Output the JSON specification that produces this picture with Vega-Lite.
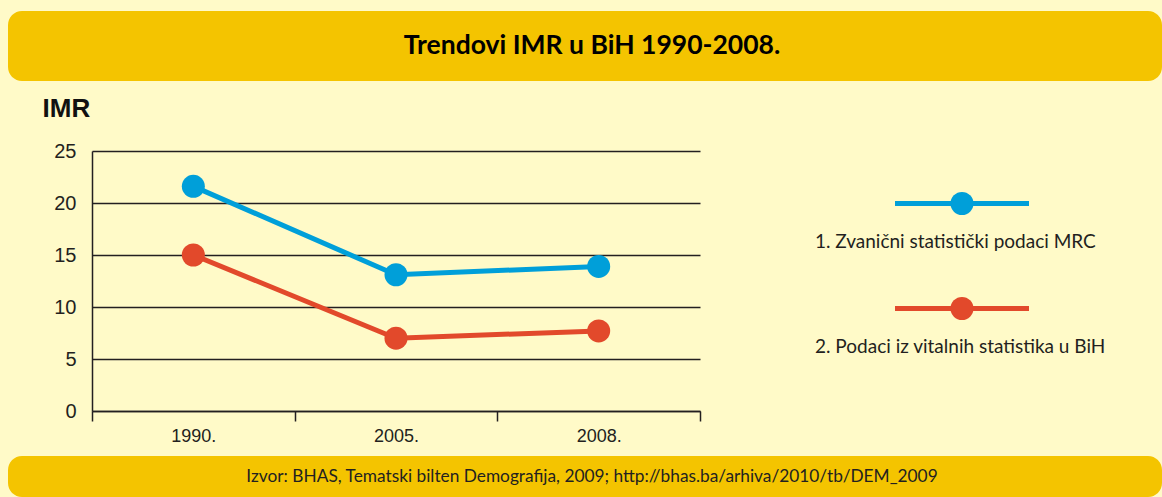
{
  "$schema": "https://vega.github.io/schema/vega-lite/v6.json",
  "background": "#FFFAC8",
  "padding": {"left": 8, "top": 11, "right": 0, "bottom": 0},
  "config": {"view": {"stroke": null}},
  "datasets": {
    "imr": [
      {"year": "1990.", "series": "1. Zvanični statistički podaci MRC", "imr": 21.6},
      {"year": "2005.", "series": "1. Zvanični statistički podaci MRC", "imr": 13.1},
      {"year": "2008.", "series": "1. Zvanični statistički podaci MRC", "imr": 13.9},
      {"year": "1990.", "series": "2. Podaci iz vitalnih statistika u BiH", "imr": 15.0},
      {"year": "2005.", "series": "2. Podaci iz vitalnih statistika u BiH", "imr": 7.0},
      {"year": "2008.", "series": "2. Podaci iz vitalnih statistika u BiH", "imr": 7.7}
    ],
    "legend": [
      {"series": "1. Zvanični statistički podaci MRC"},
      {"series": "2. Podaci iz vitalnih statistika u BiH"}
    ],
    "empty": [],
    "header": [{"text": "Trendovi IMR u BiH 1990-2008."}],
    "footer": [{"text": "Izvor:  BHAS, Tematski bilten Demografija, 2009; http://bhas.ba/arhiva/2010/tb/DEM_2009"}]
  },
  "spacing": 14,
  "vconcat": [
    {
      "width": 1154,
      "height": 70,
      "view": {"fill": "#F4C400", "stroke": null, "cornerRadius": 14},
      "data": {"name": "header"},
      "mark": {"type": "text", "font": "Lato", "fontSize": 26.5, "fontWeight": "bold", "color": "#000000", "align": "center", "baseline": "middle", "dx": 7},
      "encoding": {"text": {"field": "text"}}
    },
    {
      "spacing": 11,
      "vconcat": [
        {
          "spacing": 14,
          "hconcat": [
            {
              "width": 20,
              "height": 10,
              "data": {"name": "empty"},
              "mark": "point"
            },
            {
              "spacing": 114,
              "hconcat": [
                {
                  "width": 608,
                  "height": 260,
                  "data": {"name": "imr"},
                  "encoding": {
                    "x": {
                      "field": "year", "type": "ordinal", "sort": null,
                      "scale": {"type": "band", "paddingInner": 0, "paddingOuter": 0},
                      "axis": {"title": null, "labelAngle": 0, "labelFont": "Liberation Sans", "labelFontSize": 18, "labelColor": "#231F20", "labelPadding": 6, "tickBand": "extent", "tickSize": 10, "tickColor": "#231F20", "tickWidth": 1.5, "domainColor": "#231F20", "domainWidth": 1.5, "grid": false}
                    },
                    "y": {
                      "field": "imr", "type": "quantitative",
                      "scale": {"domain": [0, 25], "nice": false},
                      "axis": {"values": [0, 5, 10, 15, 20, 25], "grid": true, "gridColor": "#231F20", "gridWidth": 1.5, "gridOpacity": 1, "domainColor": "#231F20", "domainWidth": 1.5, "ticks": false, "labelPadding": 16, "labelFont": "Liberation Sans", "labelFontSize": 20, "labelColor": "#231F20", "title": "IMR", "titleAngle": 0, "titleAlign": "left", "titleBaseline": "alphabetic", "titleX": -50, "titleY": -35, "titleFont": "Liberation Sans", "titleFontSize": 26, "titleFontWeight": "bold", "titleColor": "#111111"}
                    },
                    "color": {
                      "field": "series", "type": "nominal",
                      "scale": {"domain": ["1. Zvanični statistički podaci MRC", "2. Podaci iz vitalnih statistika u BiH"], "range": ["#009FD9", "#E2492B"]},
                      "legend": null
                    }
                  },
                  "layer": [
                    {"mark": {"type": "line", "strokeWidth": 5}},
                    {"mark": {"type": "point", "filled": true, "size": 530, "opacity": 1}}
                  ]
                },
                {
                  "width": 134,
                  "height": 210,
                  "data": {"name": "legend"},
                  "encoding": {
                    "y": {"field": "series", "type": "nominal", "sort": null, "scale": {"type": "point", "padding": 0.5}, "axis": null},
                    "color": {
                      "field": "series", "type": "nominal",
                      "scale": {"domain": ["1. Zvanični statistički podaci MRC", "2. Podaci iz vitalnih statistika u BiH"], "range": ["#009FD9", "#E2492B"]},
                      "legend": null
                    }
                  },
                  "layer": [
                    {
                      "mark": {"type": "rule", "strokeWidth": 5},
                      "encoding": {"x": {"datum": 0, "type": "quantitative", "scale": {"domain": [0, 1]}, "axis": null}, "x2": {"datum": 1}}
                    },
                    {
                      "mark": {"type": "point", "filled": true, "size": 530, "opacity": 1},
                      "encoding": {"x": {"datum": 0.5, "type": "quantitative", "axis": null}}
                    },
                    {
                      "mark": {"type": "text", "align": "left", "baseline": "alphabetic", "dx": -80, "dy": 44, "font": "Lato", "fontSize": 19},
                      "encoding": {"x": {"datum": 0, "type": "quantitative", "axis": null}, "text": {"field": "series"}, "color": {"value": "#231F20"}}
                    }
                  ]
                }
              ]
            }
          ]
        },
        {
          "width": 1154,
          "height": 41,
          "view": {"fill": "#F4C400", "stroke": null, "cornerRadius": 14},
          "data": {"name": "footer"},
          "mark": {"type": "text", "font": "Lato", "fontSize": 17.3, "color": "#231F20", "align": "center", "baseline": "middle", "dx": 7},
          "encoding": {"text": {"field": "text"}}
        }
      ]
    }
  ]
}
